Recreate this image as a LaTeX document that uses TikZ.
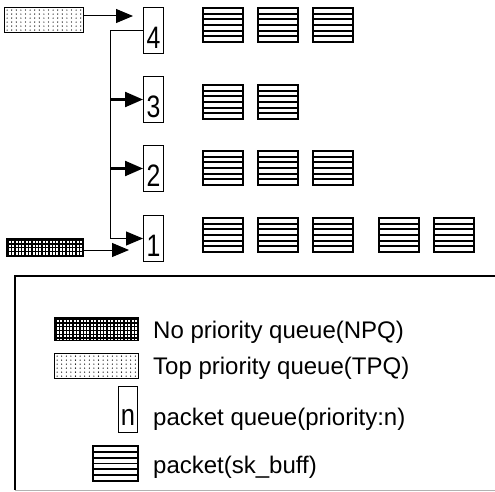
\documentclass[tikz,border=0pt]{standalone}
\usepackage{fontspec}
\setmainfont{Liberation Sans}
\usetikzlibrary{arrows.meta,calc}
\begin{document}
\begin{tikzpicture}[x=1pt,y=-1pt,
  numbox/.style={draw, line width=1, minimum width=20, inner sep=1pt, text height=40pt, text depth=4pt, font=\fontsize{31}{31}\selectfont, anchor=north west},
  pkt/.style={draw, line width=2, minimum width=40, minimum height=34, inner sep=0, anchor=north west,
    path picture={\foreach \i in {1,...,5}{\draw[line width=1.9] ($(path picture bounding box.north west)!\i/6!(path picture bounding box.south west)$) -- ++(80,0);}}},
  dotfill/.style={draw, line width=1.2, inner sep=0, anchor=north west,
    path picture={\foreach \a in {0,...,18}{\foreach \b in {0,...,6}{\fill ($(path picture bounding box.north west)+(2.5+4.6*\a,2.5+4*\b)$) circle (0.65);}}}},
  gridfill/.style={draw, line width=1.2, inner sep=0, anchor=north west,
    path picture={\foreach \a in {0,...,26}{\draw[line width=1.3] ($(path picture bounding box.north west)+(1.5+3.4*\a,-2)$) -- ++(0,40);}
      \foreach \b in {0,...,10}{\draw[line width=1.3] ($(path picture bounding box.north west)+(-2,1.5+3.8*\b)$) -- ++(100,0);}}},
  arr/.style={-{Triangle[length=17pt,width=14pt]}, line width=1},
  arrthick/.style={-{Triangle[length=18pt,width=15pt]}, line width=2.2},
  legtext/.style={anchor=base west, inner sep=0, font=\fontsize{24}{24}\selectfont},
]
\useasboundingbox (0,0) rectangle (495,492);

% queues
\node[dotfill, minimum width=79, minimum height=25] (tpq) at (4,7) {};
\node[gridfill, minimum width=77, minimum height=18] (npq) at (6,238) {};

\node[numbox] (b4) at (143,7) {\scalebox{0.8}[1]{4}};
\node[numbox] (b3) at (143,76) {\scalebox{0.8}[1]{3}};
\node[numbox] (b2) at (143,145) {\scalebox{0.8}[1]{2}};
\node[numbox] (b1) at (143,215) {\scalebox{0.8}[1]{1}};

% packets
\node[pkt] (p41) at (202,7) {};
\node[pkt] (p42) at (257,7) {};
\node[pkt] (p43) at (312,7) {};
\node[pkt] (p31) at (202,84) {};
\node[pkt] (p32) at (257,84) {};
\node[pkt] (p21) at (202,150) {};
\node[pkt] (p22) at (257,150) {};
\node[pkt] (p23) at (312,150) {};
\node[pkt] (p11) at (202,217) {};
\node[pkt] (p12) at (257,217) {};
\node[pkt] (p13) at (312,217) {};
\node[pkt] (p14) at (378,217) {};
\node[pkt] (p15) at (433,217) {};

% connectors
\coordinate (t4) at (133,16);
\coordinate (bus) at (110,0);
\coordinate (n1) at (129,250);
\draw[arr] (tpq.east |- t4) -- (t4);
\draw[arr] (b4.west) -| (bus |- b1.west) -- (b1.west);
\draw[arrthick] (bus |- b3.west) -- (b3.west);
\draw[arrthick] (bus |- b2.west) -- (b2.west);
\draw[arr] (npq.east |- n1) -- (n1);

% legend frame
\draw[line width=1.2] (495,276) -- (15,276) -- (15,490);
\draw[line width=1, black!30] (15,490) -- (495,490);

% legend items
\node[gridfill, minimum width=84, minimum height=23] (lnpq) at (54,317) {};
\node[dotfill, minimum width=84, minimum height=25] (ltpq) at (54,353) {};
\node[draw, line width=1, minimum width=19, inner sep=1pt, text height=38pt, text depth=6pt, font=\fontsize{30}{30}\selectfont, anchor=north west] (lq) at (118,386) {\scalebox{0.85}[1]{n}};
\node[pkt, minimum width=45, minimum height=35] (lpkt) at (92,445) {};

\node[legtext] (t1) at (153,338) {No priority queue(NPQ)};
\node[legtext] (t2) at (153,374) {Top priority queue(TPQ)};
\node[legtext] (t3) at (153,425) {packet queue(priority:n)};
\node[legtext] (t4t) at (153,473) {packet(sk\_buff)};
\end{tikzpicture}
\end{document}
